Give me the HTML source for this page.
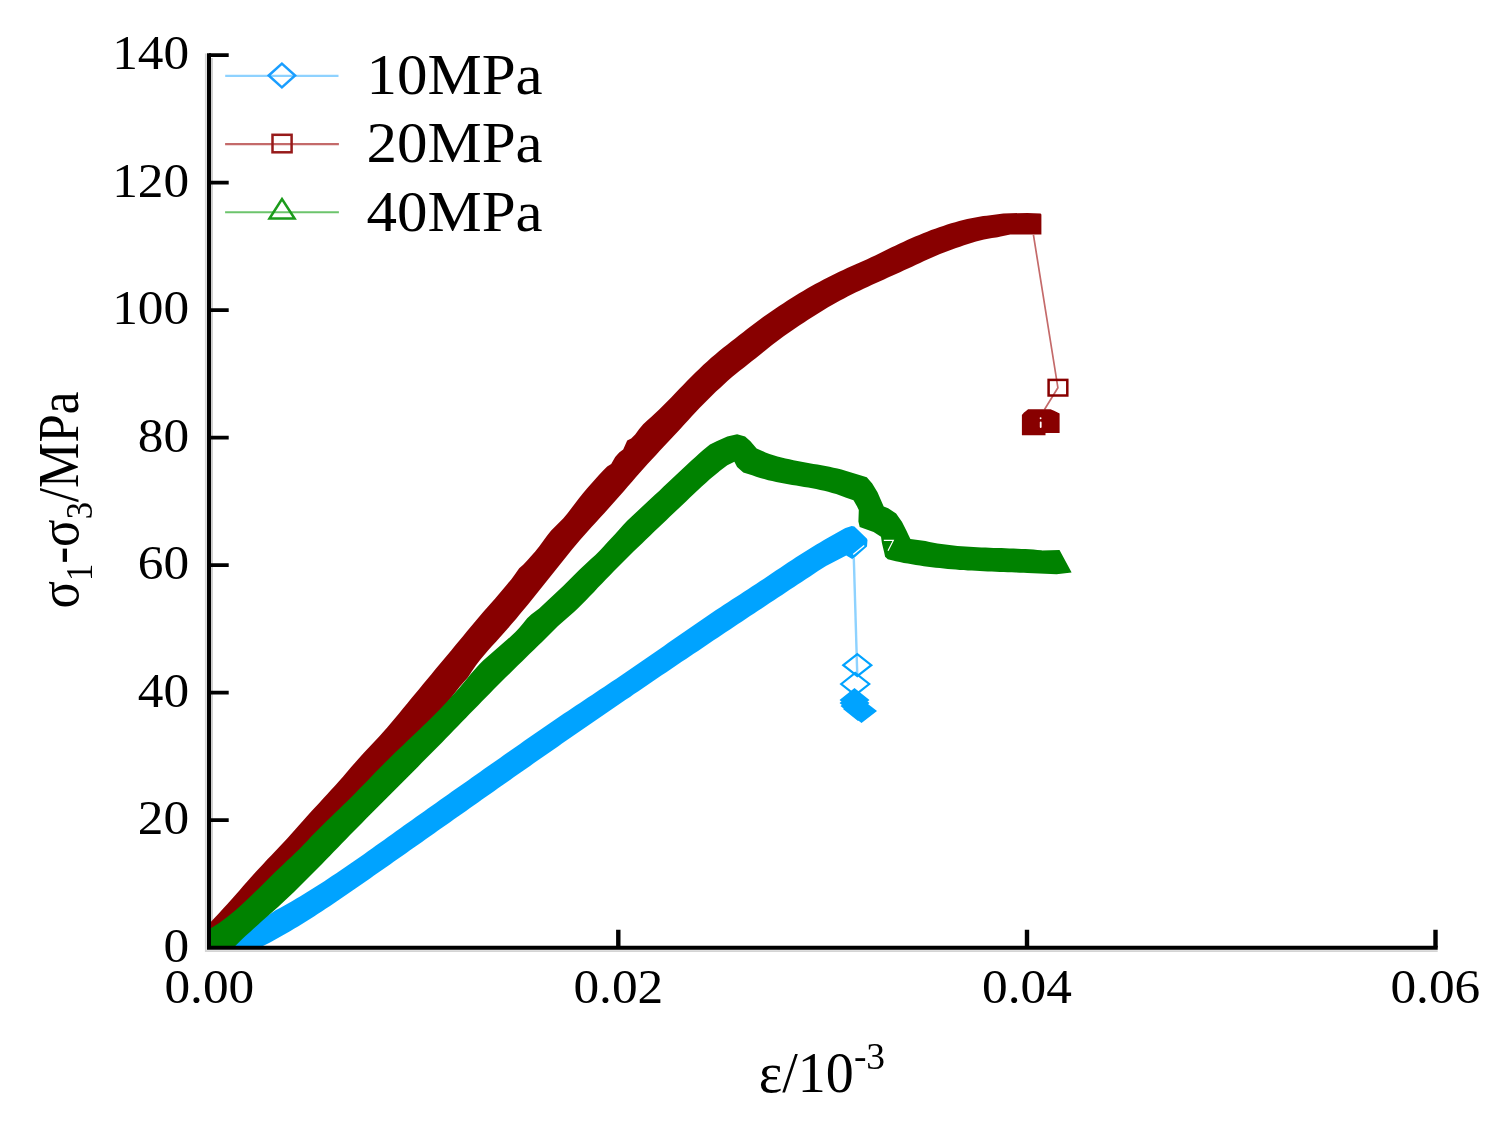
<!DOCTYPE html>
<html><head><meta charset="utf-8"><style>
html,body{margin:0;padding:0;background:#fff;}
body{width:1508px;height:1126px;overflow:hidden;}
svg{display:block;}
</style></head><body>
<svg width="1508" height="1126" viewBox="0 0 1508 1126">
<defs><clipPath id="pc"><rect x="209" y="40" width="1230" height="907.5"/></clipPath></defs>
<path fill="none" stroke="#d4d4d4" stroke-width="1.8" d="M205.8,53.5 V952 M205,951.1 H1437.7"/>
<path fill="none" stroke="#c4c4c4" stroke-width="1.6" d="M212,58 V945"/>
<g clip-path="url(#pc)">
<polygon fill="#00a3ff" points="222.0,952.0 240.0,936.0 258.0,922.0 276.0,910.1 280.0,907.9 284.0,905.7 288.0,903.5 292.0,901.2 296.0,898.8 300.0,896.4 304.0,894.0 308.0,891.6 312.0,889.1 316.0,886.6 320.0,884.0 324.0,881.4 328.0,878.8 332.0,876.1 336.0,873.5 340.0,870.8 344.0,868.0 348.0,865.3 352.0,862.5 356.0,859.8 360.0,857.0 364.0,854.2 368.0,851.3 372.0,848.5 376.0,845.6 380.0,842.8 384.0,839.9 388.0,837.1 392.0,834.2 396.0,831.3 400.0,828.5 404.0,825.6 408.0,822.7 412.0,819.9 416.0,817.0 420.0,814.2 424.0,811.4 428.0,808.5 432.0,805.7 436.0,802.9 440.0,800.1 444.0,797.2 448.0,794.4 452.0,791.6 456.0,788.8 460.0,786.0 464.0,783.2 468.0,780.4 472.0,777.6 476.0,774.8 480.0,771.9 484.0,769.1 488.0,766.3 492.0,763.5 496.0,760.7 500.0,757.9 504.0,755.1 508.0,752.3 512.0,749.5 516.0,746.7 520.0,743.9 524.0,741.1 528.0,738.3 532.0,735.5 536.0,732.8 540.0,730.0 544.0,727.2 548.0,724.5 552.0,721.8 556.0,719.0 560.0,716.3 564.0,713.6 568.0,710.9 572.0,708.2 576.0,705.6 580.0,702.9 584.0,700.2 588.0,697.5 592.0,694.9 596.0,692.2 600.0,689.6 604.0,686.9 608.0,684.2 612.0,681.5 616.0,678.9 620.0,676.2 624.0,673.5 628.0,670.8 632.0,668.0 636.0,665.3 640.0,662.6 644.0,659.8 648.0,657.0 652.0,654.3 656.0,651.5 660.0,648.7 664.0,645.9 668.0,643.1 672.0,640.3 676.0,637.5 680.0,634.7 684.0,631.9 688.0,629.2 692.0,626.4 696.0,623.7 700.0,620.9 704.0,618.2 708.0,615.5 712.0,612.8 716.0,610.1 720.0,607.5 724.0,604.8 728.0,602.2 732.0,599.6 736.0,597.0 740.0,594.4 744.0,591.8 748.0,589.2 752.0,586.6 756.0,584.0 760.0,581.3 764.0,578.7 768.0,576.0 772.0,573.3 776.0,570.6 780.0,567.9 784.0,565.2 788.0,562.5 792.0,559.9 796.0,557.3 800.0,554.7 804.0,552.2 808.0,549.7 812.0,547.2 816.0,544.8 820.0,542.4 824.0,540.0 828.0,537.7 832.0,535.4 836.0,533.2 840.0,531.0 844.0,528.8 845.5,528.0 851.7,526.0 854.4,526.5 866.8,538.5 867.5,540.0 867.0,546.4 852.6,559.2 846.2,555.5 826.0,565.9 822.0,568.5 818.0,571.1 814.0,573.8 810.0,576.4 806.0,579.0 802.0,581.7 798.0,584.3 794.0,587.0 790.0,589.6 786.0,592.3 782.0,594.9 778.0,597.5 774.0,600.2 770.0,602.8 766.0,605.5 762.0,608.2 758.0,610.8 754.0,613.5 750.0,616.1 746.0,618.8 742.0,621.4 738.0,624.1 734.0,626.8 730.0,629.4 726.0,632.1 722.0,634.8 718.0,637.5 714.0,640.1 710.0,642.8 706.0,645.5 702.0,648.2 698.0,650.9 694.0,653.6 690.0,656.2 686.0,658.9 682.0,661.6 678.0,664.3 674.0,667.0 670.0,669.7 666.0,672.4 662.0,675.1 658.0,677.8 654.0,680.6 650.0,683.3 646.0,686.0 642.0,688.7 638.0,691.4 634.0,694.1 630.0,696.9 626.0,699.6 622.0,702.3 618.0,705.1 614.0,707.8 610.0,710.5 606.0,713.3 602.0,716.0 598.0,718.8 594.0,721.5 590.0,724.3 586.0,727.0 582.0,729.8 578.0,732.5 574.0,735.3 570.0,738.1 566.0,740.8 562.0,743.6 558.0,746.4 554.0,749.2 550.0,751.9 546.0,754.7 542.0,757.5 538.0,760.3 534.0,763.1 530.0,765.9 526.0,768.7 522.0,771.5 518.0,774.3 514.0,777.1 510.0,779.9 506.0,782.7 502.0,785.5 498.0,788.3 494.0,791.2 490.0,794.0 486.0,796.8 482.0,799.6 478.0,802.4 474.0,805.2 470.0,808.1 466.0,810.9 462.0,813.7 458.0,816.5 454.0,819.3 450.0,822.2 446.0,825.0 442.0,827.8 438.0,830.6 434.0,833.4 430.0,836.3 426.0,839.1 422.0,841.9 418.0,844.7 414.0,847.5 410.0,850.3 406.0,853.2 402.0,856.0 398.0,858.8 394.0,861.6 390.0,864.4 386.0,867.2 382.0,870.0 378.0,872.8 374.0,875.6 370.0,878.4 366.0,881.2 362.0,884.0 358.0,886.8 354.0,889.6 350.0,892.3 346.0,895.1 342.0,897.8 338.0,900.5 334.0,903.2 330.0,905.9 326.0,908.6 322.0,911.2 318.0,913.8 314.0,916.4 310.0,919.0 306.0,921.5 302.0,924.0 298.0,926.4 294.0,928.8 290.0,931.2 286.0,933.5 282.0,935.8 278.0,938.1 274.0,940.3 270.0,942.4 266.0,944.5 262.0,946.6 258.0,948.5 250.0,952.0"/>
<line x1="853.8" y1="558" x2="857.3" y2="676" stroke="#8ed2ff" stroke-width="2.4"/>
<path fill="#00a3ff" d="M839.5,700.0L854.5,688.0L869.5,700.0L854.5,712.0Z M839.5,703.0L854.5,691.0L869.5,703.0L854.5,715.0Z M840.5,706.0L855.5,694.0L870.5,706.0L855.5,718.0Z M843.0,709.0L858.0,697.0L873.0,709.0L858.0,721.0Z M846.0,711.0L861.5,699.0L877.0,711.0L861.5,723.0Z"/>
<path fill="none" stroke="#00a3ff" stroke-width="2.2" d="M843.3,665.2L857.3,654.2L871.3,665.2L857.3,676.2Z M841.2,684.0L855.2,673.0L869.2,684.0L855.2,695.0Z"/>
<path fill="none" stroke="#fff" stroke-width="1.3" d="M864.2,545.6 L853.2,554.4"/>
<polygon fill="#880000" points="205.0,927.0 211.2,921.4 215.2,917.2 219.2,913.0 223.2,908.6 227.2,904.2 231.2,899.7 235.2,895.2 239.2,890.7 243.2,886.1 247.2,881.6 251.2,877.1 255.2,872.6 259.2,868.2 263.2,863.9 267.2,859.6 271.2,855.4 275.2,851.2 279.2,847.0 283.2,842.8 287.2,838.5 291.2,834.1 295.2,829.6 299.2,825.1 303.2,820.6 307.2,816.1 311.2,811.6 315.2,807.2 319.2,802.9 323.2,798.5 327.2,794.2 331.2,789.8 335.2,785.4 339.2,781.0 343.2,776.4 347.2,771.8 351.2,767.1 355.2,762.5 359.2,758.0 363.2,753.6 367.2,749.3 371.2,745.0 375.2,740.8 379.2,736.5 383.2,732.0 387.2,727.5 391.2,722.8 395.2,718.0 399.2,713.2 403.2,708.3 407.2,703.5 411.2,698.6 415.2,693.7 419.2,688.9 423.2,684.0 427.2,679.2 431.2,674.4 435.2,669.6 439.2,664.8 443.2,660.0 447.2,655.2 451.2,650.4 455.2,645.6 459.2,640.8 463.2,635.9 467.2,631.1 471.2,626.2 475.2,621.4 479.2,616.7 483.2,612.1 487.2,607.5 491.2,602.9 495.2,598.4 499.2,593.8 503.2,589.1 507.2,584.3 511.2,579.4 515.2,574.1 519.2,568.2 523.2,564.8 527.2,560.6 531.2,556.0 535.2,551.4 539.2,546.4 543.2,541.1 547.2,535.6 551.2,530.6 555.2,526.5 559.2,522.6 563.2,518.4 567.2,513.7 571.2,508.6 575.2,503.3 579.2,498.0 583.2,493.0 587.2,488.2 591.2,483.7 595.2,479.2 599.2,474.8 603.2,470.4 607.2,466.6 611.2,463.9 615.2,457.0 619.2,452.4 623.2,449.4 627.2,440.5 631.2,438.5 635.2,434.5 639.2,429.1 643.2,424.2 647.2,420.4 651.2,416.9 655.2,413.3 659.2,409.5 663.2,405.6 667.2,401.5 671.2,397.4 675.2,393.2 679.2,389.0 683.2,384.9 687.2,380.8 691.2,376.8 695.2,372.8 699.2,368.9 703.2,365.1 707.2,361.4 711.2,357.8 715.2,354.4 719.2,351.0 723.2,347.8 727.2,344.7 731.2,341.5 735.2,338.4 739.2,335.3 743.2,332.2 747.2,329.1 751.2,326.0 755.2,323.0 759.2,320.0 763.2,317.1 767.2,314.3 771.2,311.5 775.2,308.7 779.2,306.0 783.2,303.4 787.2,300.8 791.2,298.3 795.2,295.8 799.2,293.3 803.2,290.9 807.2,288.6 811.2,286.3 815.2,284.1 819.2,281.9 823.2,279.8 827.2,277.7 831.2,275.7 835.2,273.7 839.2,271.8 843.2,270.0 847.2,268.1 851.2,266.3 855.2,264.6 859.2,262.8 863.2,261.0 867.2,259.2 871.2,257.3 875.2,255.4 879.2,253.5 883.2,251.5 887.2,249.5 891.2,247.6 895.2,245.7 899.2,243.8 903.2,241.9 907.2,240.1 911.2,238.3 915.2,236.6 919.2,234.9 923.2,233.3 927.2,231.7 931.2,230.1 935.2,228.7 939.2,227.2 943.2,225.9 947.2,224.6 951.2,223.3 955.2,222.2 959.2,221.0 963.2,220.0 967.2,219.1 971.2,218.2 975.2,217.4 979.2,216.7 983.2,216.1 986.6,215.7 1003.3,213.4 1027.3,212.9 1040.6,213.5 1041.4,214.5 1041.4,234.4 1010.3,234.4 1000.7,236.6 997.6,237.2 996.0,237.4 992.0,238.0 988.0,238.8 984.0,239.6 980.0,240.5 976.0,241.6 972.0,242.7 968.0,244.0 964.0,245.3 960.0,246.7 956.0,248.1 952.0,249.6 948.0,251.0 944.0,252.5 940.0,254.0 936.0,255.7 932.0,257.4 928.0,259.2 924.0,261.0 920.0,262.9 916.0,264.8 912.0,266.7 908.0,268.5 904.0,270.3 900.0,272.2 896.0,274.0 892.0,275.8 888.0,277.6 884.0,279.4 880.0,281.2 876.0,283.0 872.0,284.8 868.0,286.7 864.0,288.5 860.0,290.4 856.0,292.3 852.0,294.3 848.0,296.3 844.0,298.4 840.0,300.5 836.0,302.7 832.0,305.0 828.0,307.3 824.0,309.7 820.0,312.2 816.0,314.7 812.0,317.2 808.0,319.8 804.0,322.5 800.0,325.1 796.0,327.8 792.0,330.5 788.0,333.3 784.0,336.1 780.0,339.0 776.0,342.0 772.0,345.1 768.0,348.2 764.0,351.5 760.0,354.7 756.0,357.9 752.0,361.1 748.0,364.2 744.0,367.4 740.0,370.5 736.0,373.8 732.0,377.1 728.0,380.6 724.0,384.2 720.0,387.9 716.0,391.6 712.0,395.5 708.0,399.4 704.0,403.4 700.0,407.5 696.0,411.7 692.0,416.0 688.0,420.4 684.0,424.8 680.0,429.2 676.0,433.5 672.0,437.8 668.0,442.1 664.0,446.3 660.0,450.6 656.0,454.9 652.0,459.2 648.0,463.6 644.0,468.1 640.0,472.6 636.0,477.1 632.0,481.7 628.0,486.3 624.0,490.9 620.0,495.5 616.0,500.0 612.0,504.5 608.0,509.0 604.0,513.4 600.0,517.8 596.0,522.2 592.0,526.6 588.0,531.0 584.0,535.5 580.0,540.1 576.0,544.8 572.0,549.6 568.0,554.5 564.0,559.4 560.0,564.4 556.0,569.4 552.0,574.4 548.0,579.5 544.0,584.5 540.0,589.5 536.0,594.5 532.0,599.5 528.0,604.4 524.0,609.3 520.0,614.1 516.0,618.9 512.0,623.6 508.0,628.2 504.0,632.8 500.0,637.3 496.0,641.7 492.0,646.0 488.0,650.5 484.0,655.2 480.0,660.1 476.0,665.3 472.0,671.1 468.0,677.3 460.0,686.3 440.0,712.0 407.0,755.0 350.0,815.0 300.0,866.0 250.0,913.0 211.0,939.0 205.0,943.0"/>
<polyline fill="none" stroke="#c46a6a" stroke-width="1.7" points="1033.4,234.6 1057.9,387.7 1044.5,409.5"/>
<rect x="1048.6" y="379.9" width="18.7" height="15.6" fill="none" stroke="#880000" stroke-width="2.5"/>
<path fill="#880000" d="M1021.9,435.2 V415 L1024,412.5 L1026,411 L1028.1,409.2 H1050.5 L1054.1,410.7 L1059.6,413.5 V433 H1045.5 V435.2 Z"/>
<path fill="none" stroke="#fff" stroke-width="1.8" stroke-linecap="round" d="M1040.7,422.3 V427 M1040.6,418.1 v0.2"/>
<polygon fill="#008200" points="205.0,932.0 211.2,928.0 215.2,925.6 219.2,922.9 223.2,920.1 227.2,917.1 231.2,913.8 235.2,910.5 239.2,906.9 243.2,903.3 247.2,899.5 251.2,895.7 255.2,891.8 259.2,887.9 263.2,883.9 267.2,879.9 271.2,876.0 275.2,872.0 279.2,868.2 283.2,864.4 287.2,860.6 291.2,856.9 295.2,853.1 299.2,849.2 303.2,845.1 307.2,840.9 311.2,836.6 315.2,832.5 319.2,828.4 323.2,824.5 327.2,820.6 331.2,816.7 335.2,812.8 339.2,809.0 343.2,805.1 347.2,801.2 351.2,797.2 355.2,793.2 359.2,789.1 363.2,785.0 367.2,780.9 371.2,776.7 375.2,772.6 379.2,768.5 383.2,764.4 387.2,760.4 391.2,756.5 395.2,752.6 399.2,748.7 403.2,744.9 407.2,741.1 411.2,737.3 415.2,733.5 419.2,729.7 423.2,725.8 427.2,721.9 431.2,718.0 435.2,714.0 439.2,709.9 443.2,705.7 447.2,701.5 451.2,697.1 455.2,692.6 459.2,688.0 463.2,683.2 467.2,678.4 471.2,673.6 475.2,669.0 479.2,664.6 483.2,660.6 487.2,656.9 491.2,653.4 495.2,650.0 499.2,646.5 503.2,643.0 507.2,639.6 511.2,636.0 515.2,632.3 519.2,628.1 523.2,623.2 527.2,618.3 531.2,614.5 535.2,611.6 539.2,608.6 543.2,604.8 547.2,601.0 551.2,597.3 555.2,593.6 559.2,589.8 563.2,585.9 567.2,581.9 571.2,577.9 575.2,574.0 579.2,570.0 583.2,566.2 587.2,562.4 591.2,558.8 595.2,555.2 599.2,551.2 603.2,546.9 607.2,542.4 611.2,538.2 615.2,534.1 619.2,529.6 623.2,525.0 627.2,520.8 631.2,517.0 635.2,513.2 639.2,509.5 643.2,505.7 647.2,502.0 651.2,498.3 655.2,494.6 659.2,490.9 663.2,487.1 667.2,483.3 671.2,479.5 675.2,475.7 679.2,471.9 683.2,468.2 687.2,464.4 691.2,460.8 695.2,457.2 699.2,453.6 703.2,450.1 707.2,446.8 710.0,444.5 716.6,441.3 727.3,436.4 737.1,434.2 745.1,436.4 750.4,441.3 756.6,448.4 765.5,452.4 769.5,453.9 773.5,455.2 777.5,456.4 781.5,457.4 785.5,458.4 789.5,459.3 793.5,460.2 797.5,461.0 801.5,461.7 805.5,462.5 809.5,463.2 813.5,463.9 817.5,464.6 821.5,465.3 825.5,466.0 829.5,466.8 833.5,467.7 837.5,468.6 841.5,469.6 845.5,470.7 866.8,477.2 872.2,483.4 877.5,492.3 883.7,506.5 888.2,508.3 896.1,513.6 901.9,521.7 906.1,530.0 909.3,536.7 910.4,538.9 925.5,541.0 929.5,541.9 933.5,542.7 937.5,543.4 941.5,544.0 945.5,544.6 949.5,545.1 953.5,545.5 957.5,545.9 961.5,546.3 965.5,546.6 969.5,546.8 973.5,547.1 977.5,547.3 981.5,547.4 985.5,547.6 989.5,547.7 993.5,547.9 997.5,548.0 1001.5,548.1 1005.5,548.2 1009.5,548.4 1013.5,548.5 1017.5,548.7 1021.5,548.9 1025.5,549.1 1029.5,549.3 1033.5,549.6 1037.5,549.9 1041.5,550.3 1042.0,550.4 1059.5,549.9 1071.5,572.2 1071.5,572.5 1056.6,574.3 1027.4,573.0 1023.8,572.8 1019.8,572.7 1015.8,572.5 1011.8,572.3 1007.8,572.2 1003.8,572.0 999.8,571.9 995.8,571.7 991.8,571.6 987.8,571.4 983.8,571.2 979.8,571.0 975.8,570.8 971.8,570.6 967.8,570.4 963.8,570.1 959.8,569.9 955.8,569.6 951.8,569.2 947.8,568.9 943.8,568.5 939.8,568.1 935.8,567.7 931.8,567.2 927.8,566.7 923.8,566.2 919.8,565.6 915.8,565.0 911.8,564.3 907.8,563.6 903.8,562.9 899.8,562.1 895.8,561.2 891.8,560.3 887.8,559.3 885.1,556.8 884.2,552.4 881.9,542.9 881.0,536.7 873.6,532.0 859.7,526.9 858.4,521.6 858.8,510.1 857.1,506.5 853.5,500.3 845.5,497.4 844.2,496.9 840.2,495.5 836.2,494.1 832.2,492.9 828.2,491.8 824.2,490.8 820.2,489.9 816.2,489.1 812.2,488.3 808.2,487.6 804.2,486.9 800.2,486.2 796.2,485.6 792.2,484.9 788.2,484.2 784.2,483.5 780.2,482.8 776.2,482.0 772.2,481.1 768.2,480.2 764.2,479.1 760.2,478.0 756.2,476.7 752.2,475.3 743.3,472.4 737.1,467.1 734.4,461.7 727.3,465.3 720.0,470.8 718.0,472.4 714.0,475.7 710.0,479.1 706.0,482.7 702.0,486.3 698.0,490.0 694.0,493.8 690.0,497.6 686.0,501.4 682.0,505.2 678.0,509.0 674.0,512.8 670.0,516.6 666.0,520.4 662.0,524.2 658.0,528.0 654.0,531.8 650.0,535.7 646.0,539.5 642.0,543.4 638.0,547.2 634.0,551.1 630.0,555.1 626.0,559.0 622.0,563.0 618.0,567.0 614.0,571.1 610.0,575.2 606.0,579.3 602.0,583.4 598.0,587.6 594.0,591.9 590.0,596.1 586.0,600.3 582.0,604.3 578.0,608.2 574.0,611.9 570.0,615.4 566.0,618.9 562.0,622.4 558.0,626.1 554.0,630.0 550.0,634.0 546.0,638.0 542.0,641.9 538.0,645.8 534.0,649.7 530.0,653.6 526.0,657.5 522.0,661.4 518.0,665.3 514.0,669.2 510.0,673.2 506.0,677.1 502.0,681.1 498.0,685.1 494.0,689.1 490.0,693.2 486.0,697.2 482.0,701.3 478.0,705.4 474.0,709.5 470.0,713.6 466.0,717.7 462.0,721.8 458.0,726.0 454.0,730.1 450.0,734.2 446.0,738.3 442.0,742.4 438.0,746.4 434.0,750.5 430.0,754.6 426.0,758.6 422.0,762.6 418.0,766.7 414.0,770.7 410.0,774.7 406.0,778.7 402.0,782.7 398.0,786.7 394.0,790.7 390.0,794.7 386.0,798.7 382.0,802.7 378.0,806.7 374.0,810.8 370.0,814.8 366.0,818.8 362.0,822.9 358.0,826.9 354.0,831.0 350.0,835.1 346.0,839.2 342.0,843.3 338.0,847.5 334.0,851.6 330.0,855.7 326.0,859.8 322.0,863.9 318.0,868.0 314.0,872.1 310.0,876.1 306.0,880.1 302.0,884.1 298.0,888.1 294.0,891.9 290.0,895.8 286.0,899.6 282.0,903.3 278.0,906.9 274.0,910.5 270.0,914.1 266.0,917.6 262.0,921.1 258.0,924.7 254.0,928.2 250.0,931.9 246.0,935.5 242.0,939.3 238.0,943.2 234.0,947.2 230.0,951.3 205.0,952.0"/>
<path fill="none" stroke="#fff" stroke-width="1.2" d="M883.8,540.4 H893.3 L888,550.8"/>
</g>
<path fill="none" stroke="#000" stroke-width="4" d="M209,53.2 V949.7 M207,947.7 H1437.7"/>
<path fill="none" stroke="#000" stroke-width="4.4" d="M1435.5,947.6 V929.8 M1027,947.6 V929.8 M618.3,947.6 V929.8"/>
<path fill="none" stroke="#000" stroke-width="3.7" d="M209,820.1 H228.7 M209,692.6 H228.7 M209,565.1 H228.7 M209,437.6 H228.7 M209,310.1 H228.7 M209,182.6 H228.7 M209,55.1 H228.7"/>
<text transform="translate(189.2,961.9) scale(1.07,1)" font-family="Liberation Serif, Times New Roman, serif" font-size="48" text-anchor="end">0</text>
<text transform="translate(189.2,834.4) scale(1.07,1)" font-family="Liberation Serif, Times New Roman, serif" font-size="48" text-anchor="end">20</text>
<text transform="translate(189.2,706.9) scale(1.07,1)" font-family="Liberation Serif, Times New Roman, serif" font-size="48" text-anchor="end">40</text>
<text transform="translate(189.2,579.4) scale(1.07,1)" font-family="Liberation Serif, Times New Roman, serif" font-size="48" text-anchor="end">60</text>
<text transform="translate(189.2,451.9) scale(1.07,1)" font-family="Liberation Serif, Times New Roman, serif" font-size="48" text-anchor="end">80</text>
<text transform="translate(189.2,324.4) scale(1.07,1)" font-family="Liberation Serif, Times New Roman, serif" font-size="48" text-anchor="end">100</text>
<text transform="translate(189.2,196.9) scale(1.07,1)" font-family="Liberation Serif, Times New Roman, serif" font-size="48" text-anchor="end">120</text>
<text transform="translate(189.2,69.4) scale(1.07,1)" font-family="Liberation Serif, Times New Roman, serif" font-size="48" text-anchor="end">140</text>
<text transform="translate(209.3,1002.6) scale(1.07,1)" font-family="Liberation Serif, Times New Roman, serif" font-size="48" text-anchor="middle">0.00</text>
<text transform="translate(618.3,1002.6) scale(1.07,1)" font-family="Liberation Serif, Times New Roman, serif" font-size="48" text-anchor="middle">0.02</text>
<text transform="translate(1027.0,1002.6) scale(1.07,1)" font-family="Liberation Serif, Times New Roman, serif" font-size="48" text-anchor="middle">0.04</text>
<text transform="translate(1435.3,1002.6) scale(1.07,1)" font-family="Liberation Serif, Times New Roman, serif" font-size="48" text-anchor="middle">0.06</text>
<line x1="225.2" y1="75.9" x2="338.5" y2="75.9" stroke="#8ed2ff" stroke-width="2.2"/>
<path fill="none" stroke="#1a9eff" stroke-width="2.5" d="M268.7,75.5L281.9,63.6L295.1,75.5L281.9,87.4Z"/>
<line x1="225.1" y1="144.1" x2="338.9" y2="144.1" stroke="#c46a6a" stroke-width="2.1"/>
<rect x="272.5" y="134.8" width="19.1" height="17.5" fill="none" stroke="#971a1a" stroke-width="2.5"/>
<line x1="225.1" y1="212.2" x2="338.9" y2="212.2" stroke="#6cc46c" stroke-width="2.1"/>
<path fill="none" stroke="#1b9b1b" stroke-width="2.5" d="M269.5,218.5 L282,199 L294.6,218.5 Z"/>
<text transform="translate(366.5,93.8) scale(1.07,1)" font-family="Liberation Serif, Times New Roman, serif" font-size="57" text-anchor="start">10MPa</text>
<text transform="translate(366.5,162.2) scale(1.07,1)" font-family="Liberation Serif, Times New Roman, serif" font-size="57" text-anchor="start">20MPa</text>
<text transform="translate(366.5,230.5) scale(1.07,1)" font-family="Liberation Serif, Times New Roman, serif" font-size="57" text-anchor="start">40MPa</text>
<text transform="translate(758.8,1091.5)" font-family="Liberation Serif, Times New Roman, serif" font-size="56">ε/10<tspan font-size="37.5" dy="-22.5">-3</tspan></text>
<text transform="translate(77.5,608.6) scale(1.1,1) rotate(-90)" font-family="Liberation Serif, Times New Roman, serif" font-size="51">σ<tspan font-size="34.5" dy="13.5">1</tspan><tspan dy="-13.5">-σ</tspan><tspan font-size="34.5" dy="13.5">3</tspan><tspan dy="-13.5">/MPa</tspan></text>
</svg>
</body></html>
